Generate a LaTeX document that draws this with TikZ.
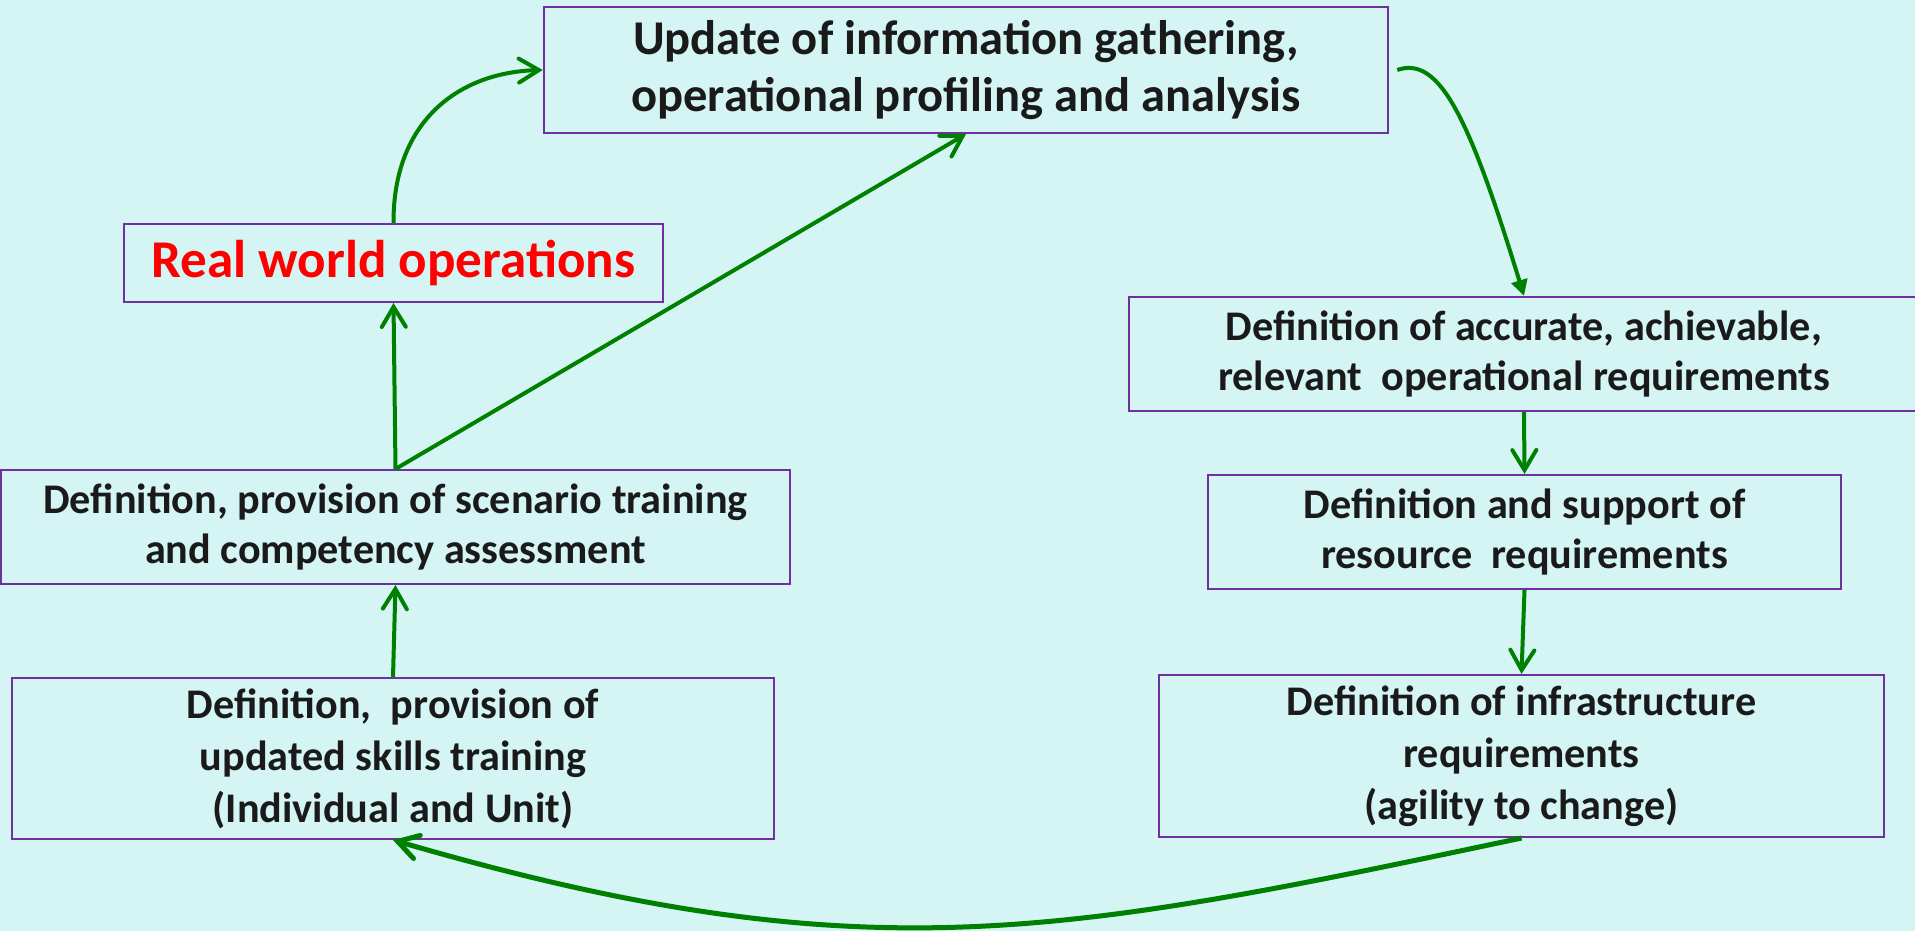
\documentclass[tikz,border=0pt]{standalone}
\usepackage{fontspec}
\setmainfont{Carlito}
\usetikzlibrary{arrows.meta}

\definecolor{bgcol}{HTML}{D5F5F5}
\definecolor{boxcol}{HTML}{7030A0}
\definecolor{flowcol}{HTML}{008000}
\definecolor{txtcol}{HTML}{1A1A1A}

\tikzset{
    stagebox/.style={draw=boxcol, line width=0.02cm, align=center, inner sep=0pt,
        text=txtcol, font=\bfseries\fontsize{12}{14.2}\selectfont},
    flow/.style={draw=flowcol, line width=0.04cm,
        -{Straight Barb[length=0.2cm, width=0.24cm, line cap=round]}},
}

\begin{document}
\begin{tikzpicture}[x=0.01cm, y=-0.01cm]
    \fill[bgcol] (0,0) rectangle (1915,931);
    \useasboundingbox (0,0) rectangle (1915,931);

    % Left column
    \node[stagebox, minimum width=8.44cm, minimum height=1.26cm,
        font=\bfseries\fontsize{13.8}{16}\selectfont] (update) at (966,70)
        {Update of information gathering,\\operational profiling and analysis};
    \node[stagebox, minimum width=5.39cm, minimum height=0.78cm, text=red,
        font=\bfseries\fontsize{15.1}{17}\selectfont] (real) at (393.5,263)
        {Real world operations};
    \node[stagebox, minimum width=7.89cm, minimum height=1.14cm] (scen) at (395.5,527)
        {Definition, provision of scenario training\\and competency assessment};
    \node[stagebox, minimum width=7.62cm, minimum height=1.61cm,
        font=\bfseries\fontsize{12}{14.8}\selectfont] (skills) at (393,758.5)
        {Definition,\ \ provision of\\updated skills training\\(Individual and Unit)};

    % Right column
    \node[stagebox, minimum width=7.9cm, minimum height=1.14cm] (accur) at (1524,354)
        {Definition of accurate, achievable,\\relevant\ \ operational requirements};
    \node[stagebox, minimum width=6.33cm, minimum height=1.14cm] (resrc) at (1524.5,532)
        {Definition and support of\\resource\ \ requirements};
    \node[stagebox, minimum width=7.25cm, minimum height=1.62cm,
        font=\bfseries\fontsize{12}{14.8}\selectfont] (infra) at (1521.5,756)
        {Definition of infrastructure\\requirements\\(agility to change)};

    % Connectors
    \draw[flow] (scen.north) -- (real.south);
    \draw[flow] (scen.north) -- (update.south);
    \draw[flow] (skills.north) -- (scen.south);
    \draw[flow] (real.north) .. controls (393,120) and (460,72) .. (update.west);
    \draw[draw=flowcol, line width=0.04cm, -{Triangle[length=0.16cm, width=0.16cm]}]
        ([xshift=0.08cm]update.east) .. controls (1440,55) and (1470,120) .. (accur.north);
    \draw[flow] (accur.south) -- (resrc.north);
    \draw[flow] (resrc.south) -- (infra.north);
    \draw[flow, line width=0.05cm] (infra.south) .. controls (1062,935) and (864,977) .. (skills.south);
\end{tikzpicture}
\end{document}
